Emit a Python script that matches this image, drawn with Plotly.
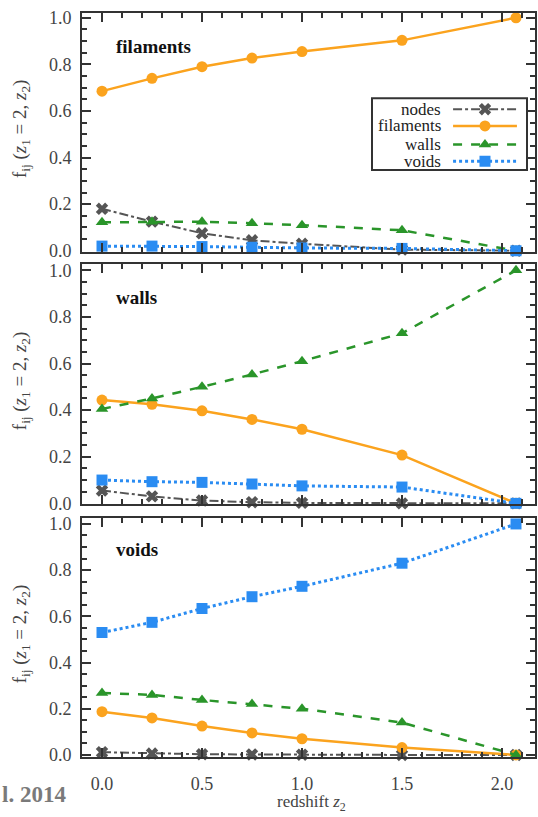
import plotly.graph_objects as go

# ---------------- data ----------------
z2 = [0.0, 0.25, 0.5, 0.75, 1.0, 1.5, 2.07]

series_names = ["nodes", "filaments", "walls", "voids"]
panel_names = ["filaments", "walls", "voids"]

fil_nodes = [0.18, 0.125, 0.075, 0.045, 0.03, 0.005, 0.0]
fil_filaments = [0.685, 0.74, 0.79, 0.827, 0.855, 0.903, 1.0]
fil_walls = [0.122, 0.125, 0.125, 0.118, 0.11, 0.088, 0.0]
fil_voids = [0.02, 0.02, 0.018, 0.015, 0.012, 0.01, 0.0]

wal_nodes = [0.055, 0.03, 0.012, 0.005, 0.002, 0.0, 0.0]
wal_filaments = [0.443, 0.425, 0.397, 0.36, 0.318, 0.207, 0.0]
wal_walls = [0.405, 0.45, 0.50, 0.553, 0.61, 0.73, 1.0]
wal_voids = [0.10, 0.093, 0.09, 0.083, 0.075, 0.07, 0.0]

voi_nodes = [0.012, 0.006, 0.003, 0.002, 0.001, 0.0, 0.0]
voi_filaments = [0.187, 0.16, 0.125, 0.095, 0.07, 0.032, 0.0]
voi_walls = [0.268, 0.26, 0.238, 0.22, 0.2, 0.14, 0.0]
voi_voids = [0.53, 0.574, 0.634, 0.685, 0.73, 0.83, 1.0]

panels = [
    [fil_nodes, fil_filaments, fil_walls, fil_voids],
    [wal_nodes, wal_filaments, wal_walls, wal_voids],
    [voi_nodes, voi_filaments, voi_walls, voi_voids],
]

x_tickvals = [0.0, 0.5, 1.0, 1.5, 2.0]
x_ticktext = ["0.0", "0.5", "1.0", "1.5", "2.0"]
y_tickvals = [0.0, 0.2, 0.4, 0.6, 0.8, 1.0]
y_ticktext = ["0.0", "0.2", "0.4", "0.6", "0.8", "1.0"]

# ---------------- styles ----------------
styles = {
    "nodes": dict(color="#555555", dash="dashdot", width=2, symbol="x", msize=11),
    "filaments": dict(color="#FBA31E", dash="solid", width=2.5, symbol="circle", msize=11),
    "walls": dict(color="#2A952A", dash="dash", width=2.5, symbol="triangle-up", msize=11),
    "voids": dict(color="#2A8CF2", dash="dot", width=3, symbol="square", msize=11),
}

FONT = "Liberation Serif"
W, H = 538, 817
ML, MR = 82, 3
PW = W - ML - MR

def ydom(top_px, bot_px):
    return [1 - bot_px / H, 1 - top_px / H]

domains = [ydom(8, 251), ydom(264, 508), ydom(522, 765)]
yranges = [[-0.004, 1.021], [-0.004, 1.025], [-0.0085, 1.0255]]
xrange_ = [-0.1, 2.165]

fig = go.Figure()

for i, vals in enumerate(panels):
    ax = "" if i == 0 else str(i + 1)
    for name, v in zip(series_names, vals):
        s = styles[name]
        fig.add_trace(go.Scatter(
            x=z2, y=v, mode="lines+markers", name=name, showlegend=False,
            xaxis="x" + ax, yaxis="y" + ax,
            line=dict(color=s["color"], dash=s["dash"], width=s["width"]),
            marker=dict(symbol=s["symbol"], size=s["msize"], color=s["color"],
                        line=dict(width=0)),
            cliponaxis=False,
        ))

axis_line = dict(showline=True, linecolor="#333333", linewidth=2, mirror="ticks",
                 ticks="inside", tickcolor="#333333", tickwidth=2, ticklen=9,
                 showgrid=False, zeroline=False,
                 tickfont=dict(family=FONT, size=18, color="#444444"))

layout = dict(
    width=W, height=H,
    margin=dict(l=ML, r=MR, t=0, b=0),
    paper_bgcolor="white", plot_bgcolor="white",
    showlegend=False,
)

for i in range(3):
    ax = "" if i == 0 else str(i + 1)
    layout["xaxis" + ax] = dict(
        axis_line, domain=[0, 1], range=xrange_, anchor="y" + ax,
        tickvals=x_tickvals, ticktext=x_ticktext,
        showticklabels=(i == 2), ticklabelstandoff=10,
        minor=dict(dtick=0.1, tick0=0, ticks="inside", ticklen=5,
                   tickwidth=1.5, tickcolor="#333333"),
    )
    layout["yaxis" + ax] = dict(
        axis_line, domain=domains[i], range=yranges[i], anchor="x" + ax,
        tickvals=y_tickvals, ticktext=y_ticktext, ticklabelstandoff=5,
        minor=dict(dtick=0.05, tick0=0, ticks="inside", ticklen=5,
                   tickwidth=1.5, tickcolor="#333333"),
    )

# legend axes (custom legend with text to the left of the sample)
leg_x = [(372 - ML) / PW, (527 - ML) / PW]
leg_y = ydom(95, 168)
layout["xaxis4"] = dict(domain=leg_x, range=[0, 1], visible=False, anchor="y4",
                        fixedrange=True)
layout["yaxis4"] = dict(domain=leg_y, range=[0, 1], visible=False, anchor="x4",
                        fixedrange=True)

fig.update_layout(**layout)

leg_rows = [0.849, 0.616, 0.356, 0.123]
for name, ry in zip(series_names, leg_rows):
    s = styles[name]
    fig.add_trace(go.Scatter(
        x=[0.523, 0.935], y=[ry, ry], mode="lines", xaxis="x4", yaxis="y4",
        showlegend=False, hoverinfo="skip",
        line=dict(color=s["color"], dash=s["dash"], width=s["width"]),
    ))
    fig.add_trace(go.Scatter(
        x=[0.729], y=[ry], mode="markers", xaxis="x4", yaxis="y4",
        showlegend=False, hoverinfo="skip",
        marker=dict(symbol=s["symbol"], size=s["msize"], color=s["color"]),
    ))
    fig.add_annotation(x=0.455, y=ry, xref="x4", yref="y4", text=name,
                       showarrow=False, xanchor="right", yanchor="middle",
                       font=dict(family=FONT, size=17, color="#222222"))

fig.add_shape(type="rect", xref="x4 domain", yref="y4 domain",
              x0=0, x1=1, y0=0, y1=1, line=dict(color="#333333", width=2),
              fillcolor="rgba(0,0,0,0)")

# panel labels
label_px = [42, 298, 554]
for name, py in zip(panel_names, label_px):
    fig.add_annotation(x=(114 - ML) / PW, y=1 - py / H,
                       xref="paper", yref="paper", text="<b>" + name + "</b>",
                       showarrow=False, xanchor="left", yanchor="middle",
                       font=dict(family=FONT, size=19, color="#111111"))

# y-axis titles
ytitle = "f<sub>ij</sub> (<i>z</i><sub>1</sub> = 2, <i>z</i><sub>2</sub>)"
for dom in domains:
    fig.add_annotation(x=(21 - ML) / PW, y=(dom[0] + dom[1]) / 2 + 0.004,
                       xref="paper", yref="paper", text=ytitle, textangle=-90,
                       showarrow=False, xanchor="center", yanchor="middle",
                       font=dict(family=FONT, size=19, color="#444444"))

# x-axis title
fig.add_annotation(x=(311 - ML) / PW, y=0, yshift=-8,
                   xref="paper", yref="paper",
                   text="redshift <i>z</i><sub>2</sub>",
                   showarrow=False, xanchor="center", yanchor="bottom",
                   font=dict(family=FONT, size=17, color="#444444"))

# partial credit watermark
fig.add_annotation(x=(0 - ML) / PW, y=1 - 803 / H,
                   xref="paper", yref="paper", text="<b>l. 2014</b>",
                   showarrow=False, xanchor="left", yanchor="middle",
                   font=dict(family=FONT, size=23, color="#7a7a7a"))

fig.write_html("out.html")
